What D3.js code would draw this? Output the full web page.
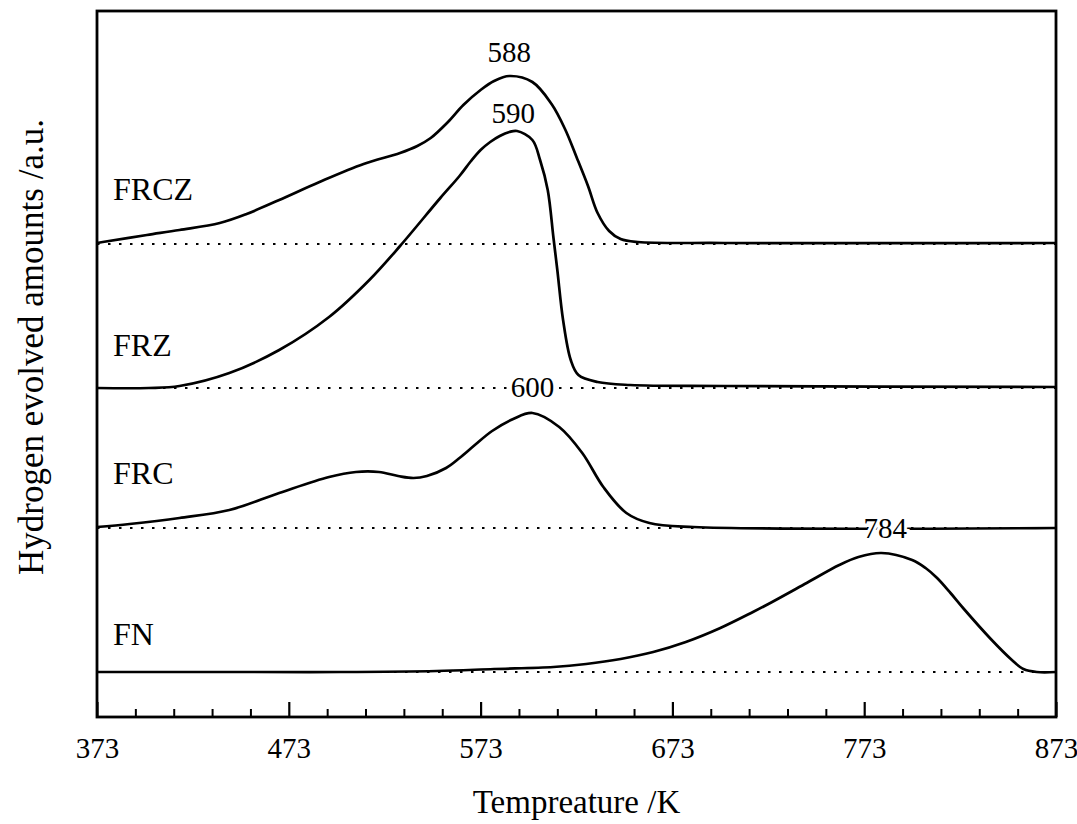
<!DOCTYPE html>
<html>
<head>
<meta charset="utf-8">
<script src="https://cdn.jsdelivr.net/npm/d3@7"></script>
<style>
  body { margin: 0; background: #fff; }
  svg { display: block; }
  text { font-family: "Liberation Serif", "DejaVu Serif", "Times New Roman", serif; fill: #000; }
</style>
</head>
<body>
<svg id="chart"></svg>
<script>
'use strict';

const WIDTH = 1077;
const HEIGHT = 824;
const M = { left: 97, right: 1056, top: 11, bottom: 717 };
const FONT = '"Liberation Serif", "DejaVu Serif", "Times New Roman", serif';

// series, stacked with a baseline offset (a.u.)
const SERIES = ['FRCZ', 'FRZ', 'FRC', 'FN'];
const BASELINES = [47.3, 32.9, 18.9, 4.5];
const PEAK_LABELS = [588, 590, 600, 784];

const FRCZ_T = [373, 376, 399, 416, 437, 451, 468, 489, 512, 531, 540, 547, 556, 564, 573, 580, 588, 600, 610, 617, 623, 629, 634, 640, 646, 655, 700, 873];
const FRCZ_H = [0.1, 0.2, 0.9, 1.4, 2.1, 3.0, 4.4, 6.2, 8.0, 9.1, 9.8, 10.6, 12.2, 13.9, 15.4, 16.3, 16.8, 16.2, 14.0, 11.5, 8.7, 5.8, 3.1, 1.3, 0.5, 0.2, 0.1, 0.1];

const FRZ_T = [373, 400, 416, 442, 468, 494, 515, 531, 552, 562, 568, 573, 578, 583, 588, 592, 600, 604, 608, 611, 613, 616, 620, 624, 634, 651, 700, 873];
const FRZ_H = [0, 0, 0.2, 1.5, 3.8, 7.1, 10.8, 14.2, 19.0, 21.2, 22.7, 23.8, 24.6, 25.2, 25.6, 25.7, 24.8, 22.8, 19.8, 15.0, 11.8, 6.8, 2.8, 1.3, 0.6, 0.3, 0.2, 0.1];

const FRC_T = [373, 390, 416, 442, 468, 494, 508, 520, 530, 538, 545, 555, 562, 570, 579, 590, 600, 614, 626, 637, 649, 661, 684, 873];
const FRC_H = [0.1, 0.4, 1.0, 1.8, 3.5, 5.1, 5.6, 5.6, 5.2, 5.0, 5.2, 6.0, 7.0, 8.3, 9.7, 10.9, 11.5, 10.1, 7.5, 4.1, 1.5, 0.5, 0.1, 0];

const FN_T = [373, 450, 500, 550, 580, 611, 628, 646, 663, 680, 698, 715, 725, 743, 760, 770, 782, 798, 805, 811, 818, 825, 839, 850, 856, 863, 873];
const FN_H = [0, 0, 0, 0.1, 0.3, 0.5, 0.8, 1.3, 2.0, 3.0, 4.4, 6.0, 7.0, 8.9, 10.7, 11.5, 11.9, 11.2, 10.4, 9.4, 7.9, 6.3, 3.3, 1.2, 0.3, 0, 0];

const X_MAJOR = [373, 473, 573, 673, 773, 873];

// label placement (layout only)
const NAME_LIFT = [44, 32, 44, 27];   // px above baseline
const PEAK_LIFT = [14, 8, 16, 15];    // px above peak

const CURVES = [
  { t: FRCZ_T, h: FRCZ_H },
  { t: FRZ_T, h: FRZ_H },
  { t: FRC_T, h: FRC_H },
  { t: FN_T, h: FN_H },
];

const svg = d3.select('#chart')
  .attr('width', WIDTH)
  .attr('height', HEIGHT)
  .attr('viewBox', `0 0 ${WIDTH} ${HEIGHT}`);

const x = d3.scaleLinear().domain([373, 873]).range([M.left, M.right]);
const y = d3.scaleLinear().domain([0, 70.6]).range([M.bottom, M.top]);

// dotted baselines
const base = svg.append('g').attr('class', 'baselines');
BASELINES.forEach(b => {
  base.append('line')
    .attr('x1', x(373)).attr('x2', x(873))
    .attr('y1', y(b)).attr('y2', y(b))
    .attr('stroke', '#000').attr('stroke-width', 2)
    .attr('stroke-dasharray', '2.5,8.5');
});

// curves
const curvesG = svg.append('g').attr('class', 'curves');
CURVES.forEach((c, i) => {
  const pts = c.t.map((t, j) => ({ t, v: BASELINES[i] + c.h[j] }));
  const line = d3.line()
    .x(d => x(d.t))
    .y(d => y(d.v))
    .curve(d3.curveCatmullRom.alpha(0.5));
  curvesG.append('path')
    .datum(pts)
    .attr('d', line)
    .attr('fill', 'none')
    .attr('stroke', '#000')
    .attr('stroke-width', 2.7)
    .attr('stroke-linejoin', 'round');
});

// series names
SERIES.forEach((name, i) => {
  svg.append('text')
    .attr('x', M.left + 16)
    .attr('y', y(BASELINES[i]) - NAME_LIFT[i])
    .attr('font-family', FONT)
    .attr('font-size', 32)
    .text(name);
});

// peak labels with white halo so they break lines behind them
PEAK_LABELS.forEach((p, i) => {
  const c = CURVES[i];
  const peak = BASELINES[i] + d3.max(c.h);
  svg.append('text')
    .attr('x', x(p))
    .attr('y', y(peak) - PEAK_LIFT[i])
    .attr('text-anchor', 'middle')
    .attr('font-family', FONT)
    .attr('font-size', 29)
    .attr('stroke', '#fff').attr('stroke-width', 6)
    .attr('paint-order', 'stroke')
    .text(p);
});

// x axis: minor and major ticks pointing inward
const minor = d3.range(393, 873, 20).filter(v => !X_MAJOR.includes(v));
svg.append('g')
  .attr('transform', `translate(0,${M.bottom})`)
  .call(d3.axisBottom(x).tickValues(minor).tickSize(-8).tickSizeOuter(0).tickFormat(''))
  .call(g => g.select('.domain').remove())
  .call(g => g.selectAll('line').attr('stroke-width', 2));

svg.append('g')
  .attr('transform', `translate(0,${M.bottom})`)
  .call(d3.axisBottom(x).tickValues(X_MAJOR).tickSize(-15).tickSizeOuter(0).tickPadding(20))
  .call(g => g.select('.domain').remove())
  .call(g => g.selectAll('line').attr('stroke-width', 2.2))
  .call(g => g.selectAll('text')
    .attr('font-family', FONT)
    .attr('font-size', 29).attr('fill', '#000'));

// frame
svg.append('rect')
  .attr('x', M.left).attr('y', M.top)
  .attr('width', M.right - M.left).attr('height', M.bottom - M.top)
  .attr('fill', 'none').attr('stroke', '#000').attr('stroke-width', 2.8);

// axis titles
svg.append('text')
  .attr('x', (M.left + M.right) / 2)
  .attr('y', 813)
  .attr('text-anchor', 'middle')
  .attr('font-family', FONT)
  .attr('font-size', 33)
  .text('Tempreature /K');

svg.append('text')
  .attr('transform', `translate(43,${(M.top + M.bottom) / 2 - 17}) rotate(-90)`)
  .attr('text-anchor', 'middle')
  .attr('font-family', FONT)
  .attr('font-size', 35)
  .text('Hydrogen evolved amounts /a.u.');
</script>
</body>
</html>
